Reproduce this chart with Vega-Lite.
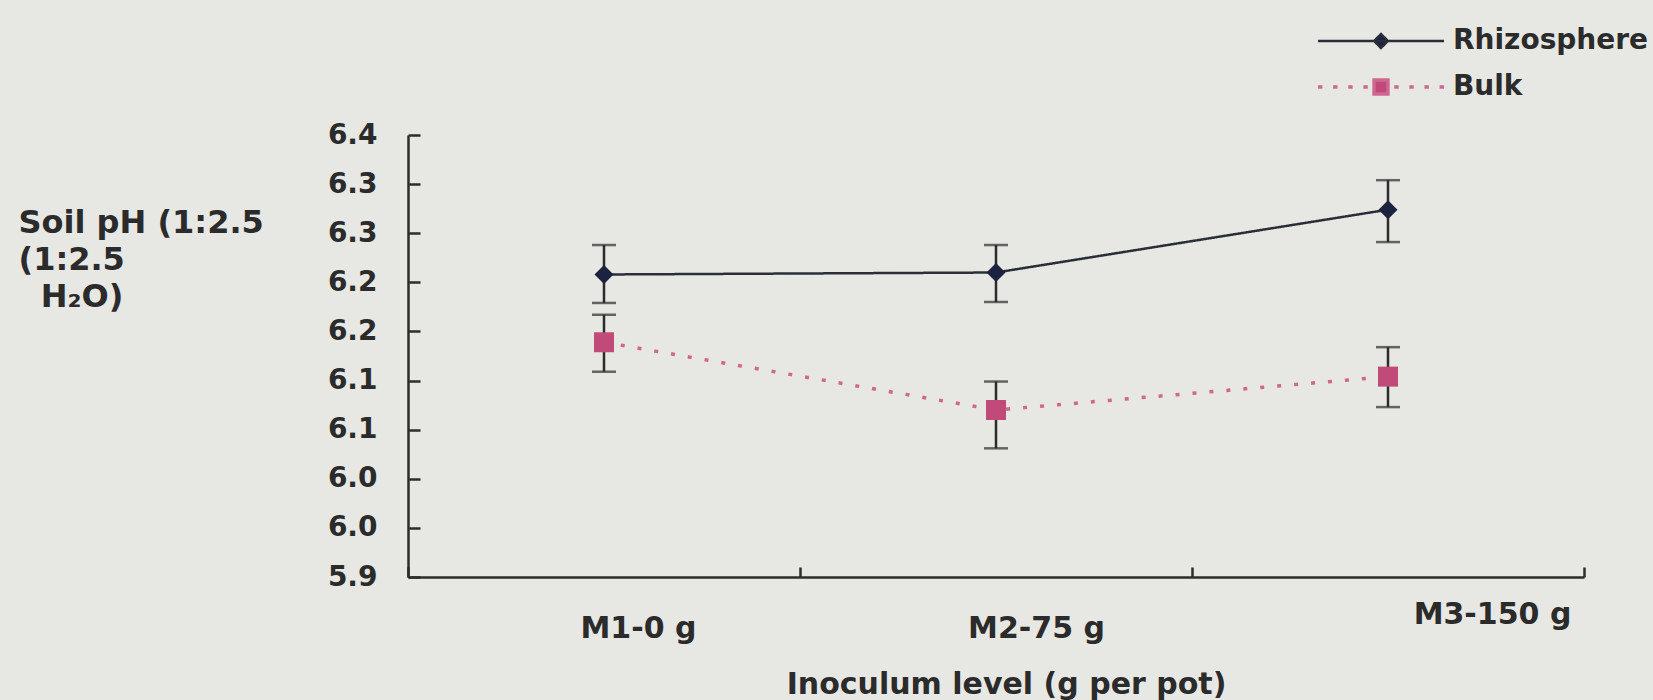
{
  "$schema": "https://vega.github.io/schema/vega-lite/v6.json",
  "width": 1176,
  "height": 442,
  "autosize": {"type": "none"},
  "padding": {"left": 408, "top": 135, "right": 69, "bottom": 123},
  "background": "#e7e8e4",
  "config": {"view": {"stroke": null}, "font": "DejaVu Sans"},
  "data": {
    "values": [
      {"level": "M1-0 g", "series": "Rhizosphere", "pH": 6.208, "lo": 6.179, "hi": 6.238},
      {"level": "M2-75 g", "series": "Rhizosphere", "pH": 6.21, "lo": 6.18, "hi": 6.238},
      {"level": "M3-150 g", "series": "Rhizosphere", "pH": 6.274, "lo": 6.241, "hi": 6.304},
      {"level": "M1-0 g", "series": "Bulk", "pH": 6.139, "lo": 6.109, "hi": 6.167},
      {"level": "M2-75 g", "series": "Bulk", "pH": 6.07, "lo": 6.031, "hi": 6.099},
      {"level": "M3-150 g", "series": "Bulk", "pH": 6.104, "lo": 6.073, "hi": 6.134}
    ]
  },
  "encoding": {
    "x": {
      "field": "level",
      "type": "nominal",
      "sort": ["M1-0 g", "M2-75 g", "M3-150 g"],
      "scale": {"type": "band", "paddingInner": 0, "paddingOuter": 0},
      "axis": {
        "title": "Inoculum level (g per pot)",
        "titleFont": "DejaVu Sans",
        "titleFontSize": 30,
        "titleFontWeight": "bold",
        "titleColor": "#2b2b2b",
        "titleX": 598,
        "titleY": 116,
        "titleBaseline": "alphabetic",
        "titleAlign": "center",
        "labelAngle": 0,
        "labelFont": "DejaVu Sans",
        "labelFontSize": 30,
        "labelFontWeight": "bold",
        "labelColor": "#2b2b2b",
        "labelBaseline": "alphabetic",
        "labelPadding": {"condition": {"test": "datum.value === 'M3-150 g'", "value": 56}, "value": 70},
        "labelOffset": {"condition": [{"test": "datum.value === 'M1-0 g'", "value": 34}, {"test": "datum.value === 'M2-75 g'", "value": 40}], "value": 104},
        "labelOverlap": false,
        "tickBand": "extent",
        "tickSize": -10,
        "tickWidth": 2.5,
        "tickColor": "#2d2d2d",
        "domainColor": "#2d2d2d",
        "domainWidth": 2.5
      }
    }
  },
  "layer": [
    {
      "mark": {"type": "line"},
      "encoding": {
        "y": {
          "field": "pH",
          "type": "quantitative",
          "scale": {"domain": [5.9, 6.35], "zero": false, "nice": false},
          "axis": {
            "values": [5.9, 5.95, 6.0, 6.05, 6.1, 6.15, 6.2, 6.25, 6.3, 6.35],
            "labelExpr": "format(datum.value + 0.0001, '.1f')",
            "title": ["Soil pH (1:2.5", "(1:2.5", "\u200b\u2007H₂O)"],
            "titleAngle": 0,
            "titleAlign": "left",
            "titleBaseline": "top",
            "titleX": -390,
            "titleY": 72,
            "titleFont": "DejaVu Sans",
            "titleFontSize": 32,
            "titleFontWeight": "bold",
            "titleColor": "#2b2b2b",
            "titleLineHeight": 37,
            "labelFont": "DejaVu Sans",
            "labelFontSize": 28,
            "labelFontWeight": "bold",
            "labelColor": "#2b2b2b",
            "labelPadding": 43,
            "labelFlush": false,
            "labelOverlap": false,
            "tickSize": -12,
            "tickWidth": 2.5,
            "tickColor": "#2d2d2d",
            "domainColor": "#2d2d2d",
            "domainWidth": 2.5,
            "grid": false
          }
        },
        "stroke": {
          "field": "series",
          "type": "nominal",
          "scale": {"domain": ["Rhizosphere", "Bulk"], "range": ["#2a2e38", "#cf6890"]},
          "legend": {
            "orient": "none",
            "legendX": 959,
            "legendY": -108,
            "title": null,
            "symbolSize": 15876,
            "labelFont": "DejaVu Sans",
            "labelFontSize": 28,
            "labelFontWeight": "bold",
            "labelColor": "#2b2b2b",
            "labelOffset": 58,
            "labelLimit": 400,
            "rowPadding": 18,
            "padding": 0,
            "encode": {
              "symbols": {
                "update": {
                  "shape": {"signal": "datum.value === 'Rhizosphere' ? 'M-1,0L1,0M-0.11,0L0,-0.11L0.11,0L0,0.11Z' : 'M-1,0L-0.93,0M-0.76,0L-0.69,0M-0.52,0L-0.45,0M-0.28,0L-0.21,0M0.21,0L0.28,0M0.45,0L0.52,0M0.69,0L0.76,0M0.93,0L1,0M-0.11,-0.11L0.11,-0.11L0.11,0.11L-0.11,0.11Z'"},
                  "size": {"value": 15876},
                  "fill": {"signal": "datum.value === 'Rhizosphere' ? '#1b2340' : '#c04a78'"},
                  "stroke": {"signal": "datum.value === 'Rhizosphere' ? '#2a2e38' : '#cf6890'"},
                  "strokeWidth": {"signal": "datum.value === 'Rhizosphere' ? 2.5 : 3.5"},
                  "strokeDash": {"value": [1, 0]},
                  "opacity": {"value": 1}
                }
              }
            }
          }
        },
        "detail": {"field": "series", "type": "nominal"},
        "strokeDash": {"condition": {"test": "datum.series === 'Bulk'", "value": [4, 13]}, "value": [1, 0]},
        "strokeWidth": {"condition": {"test": "datum.series === 'Bulk'", "value": 3.5}, "value": 2.5}
      }
    },
    {
      "mark": {"type": "rule", "color": "#2b2b2b", "strokeWidth": 2.5},
      "encoding": {
        "y": {"field": "lo", "type": "quantitative", "scale": {"domain": [5.9, 6.35], "zero": false, "nice": false}},
        "y2": {"field": "hi"}
      }
    },
    {
      "mark": {"type": "tick", "color": "#2b2b2b", "thickness": 2.5, "size": 24},
      "encoding": {
        "y": {"field": "lo", "type": "quantitative", "scale": {"domain": [5.9, 6.35], "zero": false, "nice": false}}
      }
    },
    {
      "mark": {"type": "tick", "color": "#2b2b2b", "thickness": 2.5, "size": 24},
      "encoding": {
        "y": {"field": "hi", "type": "quantitative", "scale": {"domain": [5.9, 6.35], "zero": false, "nice": false}}
      }
    },
    {
      "mark": {"type": "point", "filled": true, "opacity": 1},
      "encoding": {
        "y": {"field": "pH", "type": "quantitative", "scale": {"domain": [5.9, 6.35], "zero": false, "nice": false}},
        "color": {"condition": {"test": "datum.series === 'Bulk'", "value": "#c04a78"}, "value": "#1b2340"},
        "shape": {"condition": {"test": "datum.series === 'Bulk'", "value": "square"}, "value": "diamond"},
        "size": {"condition": {"test": "datum.series === 'Bulk'", "value": 400}, "value": 361}
      }
    }
  ]
}
